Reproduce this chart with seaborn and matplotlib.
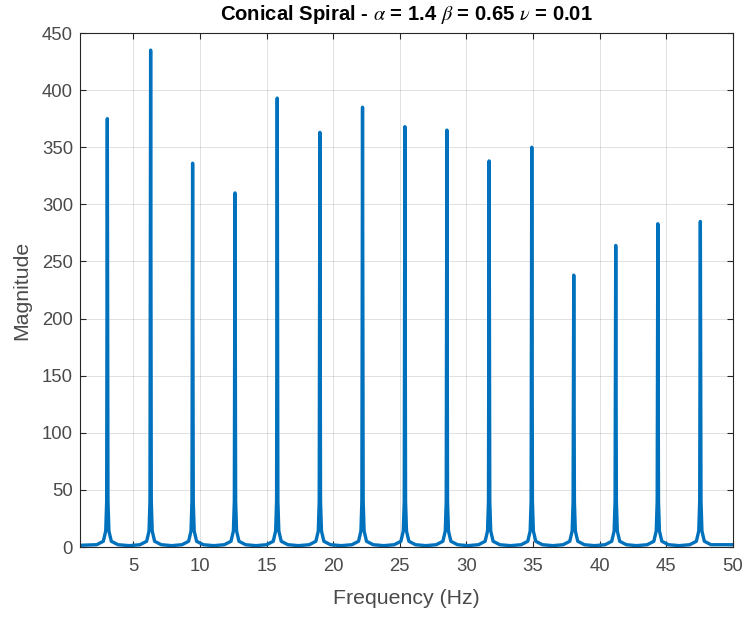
import matplotlib
matplotlib.use("Agg")
import matplotlib.pyplot as plt
import seaborn as sns
import pandas as pd

# Peak frequencies (Hz) and peak magnitudes
peak_freqs = [3.05, 6.3, 9.45, 12.63, 15.8, 19.0, 22.2, 25.38, 28.53, 31.7,
              34.9, 38.05, 41.2, 44.36, 47.55]
peak_mags = [375, 435, 336, 310, 393, 363, 385, 368, 365, 338, 350, 238, 264, 283, 285]

# Full spectrum trace (frequency, magnitude)
freq_hz = [
    1.0,
    2.25, 2.75, 2.93, 3.00, 3.05, 3.10, 3.17, 3.35, 3.85, 4.68,
    5.50, 6.00, 6.18, 6.25, 6.30, 6.35, 6.42, 6.60, 7.10, 7.88,
    8.65, 9.15, 9.33, 9.40, 9.45, 9.50, 9.57, 9.75, 10.25, 11.04,
    11.83, 12.33, 12.51, 12.58, 12.63, 12.68, 12.75, 12.93, 13.43, 14.20,
    15.00, 15.50, 15.68, 15.75, 15.80, 15.85, 15.92, 16.10, 16.60, 17.40,
    18.20, 18.70, 18.88, 18.95, 19.00, 19.05, 19.12, 19.30, 19.80, 20.60,
    21.40, 21.90, 22.08, 22.15, 22.20, 22.25, 22.32, 22.50, 23.00, 23.80,
    24.58, 25.08, 25.26, 25.33, 25.38, 25.43, 25.50, 25.68, 26.18, 26.95,
    27.73, 28.23, 28.41, 28.48, 28.53, 28.58, 28.65, 28.83, 29.33, 30.10,
    30.90, 31.40, 31.58, 31.65, 31.70, 31.75, 31.82, 32.00, 32.50, 33.30,
    34.10, 34.60, 34.78, 34.85, 34.90, 34.95, 35.02, 35.20, 35.70, 36.48,
    37.25, 37.75, 37.93, 38.00, 38.05, 38.10, 38.17, 38.35, 38.85, 39.60,
    40.40, 40.90, 41.08, 41.15, 41.20, 41.25, 41.32, 41.50, 42.00, 42.78,
    43.56, 44.06, 44.24, 44.31, 44.36, 44.41, 44.48, 44.66, 45.16, 45.96,
    46.75, 47.25, 47.43, 47.50, 47.55, 47.60, 47.67, 47.85, 48.35,
    50.0,
]
magnitude = [
    1.5,
    2, 5, 14, 40, 375, 40, 14, 5, 2, 1.2,
    2, 5, 14, 40, 435, 40, 14, 5, 2, 1.2,
    2, 5, 14, 40, 336, 40, 14, 5, 2, 1.2,
    2, 5, 14, 40, 310, 40, 14, 5, 2, 1.2,
    2, 5, 14, 40, 393, 40, 14, 5, 2, 1.2,
    2, 5, 14, 40, 363, 40, 14, 5, 2, 1.2,
    2, 5, 14, 40, 385, 40, 14, 5, 2, 1.2,
    2, 5, 14, 40, 368, 40, 14, 5, 2, 1.2,
    2, 5, 14, 40, 365, 40, 14, 5, 2, 1.2,
    2, 5, 14, 40, 338, 40, 14, 5, 2, 1.2,
    2, 5, 14, 40, 350, 40, 14, 5, 2, 1.2,
    2, 5, 14, 40, 238, 40, 14, 5, 2, 1.2,
    2, 5, 14, 40, 264, 40, 14, 5, 2, 1.2,
    2, 5, 14, 40, 283, 40, 14, 5, 2, 1.2,
    2, 5, 14, 40, 285, 40, 14, 5, 2,
    2,
]

x_ticks = [5, 10, 15, 20, 25, 30, 35, 40, 45, 50]
y_ticks = [0, 50, 100, 150, 200, 250, 300, 350, 400, 450]

sns.set_style("white")
plt.rcParams["font.family"] = ["Liberation Sans", "DejaVu Sans"]
plt.rcParams["mathtext.fontset"] = "stix"

df = pd.DataFrame({"Frequency": freq_hz, "Magnitude": magnitude})

fig = plt.figure(figsize=(7.45, 6.17), dpi=100)
ax = fig.add_axes([80 / 745, 1 - 547 / 617, (733 - 80) / 745, (547 - 33) / 617])

sns.lineplot(data=df, x="Frequency", y="Magnitude", ax=ax, color="#0072BD",
             linewidth=2.4, estimator=None, sort=False)

ax.set_xlim(1.0, 50)
ax.set_ylim(0, 450)
ax.set_xticks(x_ticks)
ax.set_yticks(y_ticks)
ax.grid(True, color="#262626", alpha=0.14, linewidth=0.7)
ax.set_axisbelow(True)

dark = "#262626"
for s in ax.spines.values():
    s.set_color(dark)
    s.set_linewidth(0.8)
    s.set_visible(True)
ax.tick_params(direction="in", length=4, width=0.8, color=dark,
               labelcolor="#4a4a4a", labelsize=13.3, top=True, right=True,
               bottom=True, left=True)
ax.tick_params(axis="x", pad=8)
ax.tick_params(axis="y", pad=5)

ax.set_xlabel("Frequency (Hz)", fontsize=15.3, color="#4a4a4a")
ax.set_ylabel("Magnitude", fontsize=15.3, color="#4a4a4a")
ax.xaxis.set_label_coords(0.5, -0.081)
ax.yaxis.set_label_coords(-0.075, 0.5)
ax.set_title(r"Conical Spiral - $\alpha$ = 1.4 $\beta$ = 0.65 $\nu$ = 0.01",
             fontsize=14.6, fontweight="bold", color="black", pad=9.5)

fig.savefig("out.png", dpi=100)
